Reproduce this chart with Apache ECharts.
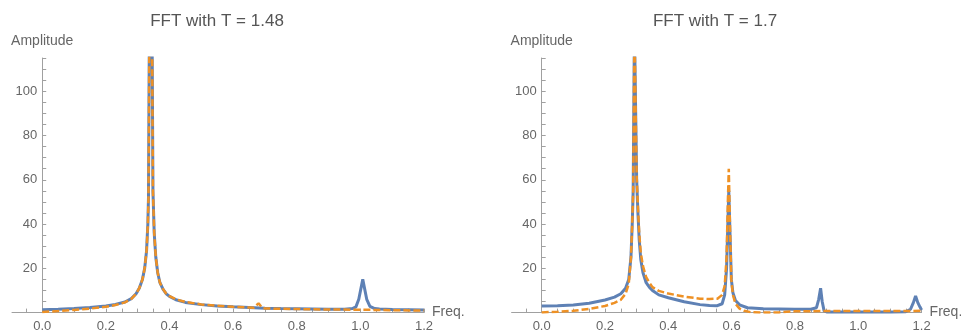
<!DOCTYPE html>
<html>
<head>
<meta charset="utf-8">
<script src="https://cdn.jsdelivr.net/npm/echarts@6/dist/echarts.min.js"></script>
<style>
  html, body { margin: 0; padding: 0; background: #fff; }
  #chart { width: 961px; height: 334px; }
</style>
</head>
<body>
<div id="chart"></div>
<script>
// T = 1.48, [freq, amplitude]
const leftBlue = [[0,1.3],[0.05,1.5],[0.1,1.8],[0.15,2.3],[0.2,3.0],[0.23,3.7],[0.26,4.8],[0.28,6.3],[0.295,8.5],[0.305,11],[0.315,15],[0.322,20],[0.328,28],[0.332,40],[0.334,52],[0.341,240],[0.348,55],[0.352,36],[0.357,25],[0.363,18],[0.37,13.5],[0.38,10.5],[0.39,8.5],[0.4,7.3],[0.42,5.8],[0.45,4.6],[0.5,3.6],[0.55,3.0],[0.6,2.6],[0.65,2.3],[0.7,2.0],[0.75,1.8],[0.8,1.7],[0.85,1.6],[0.9,1.5],[0.95,1.5],[0.975,1.8],[0.986,2.6],[0.995,6],[1.0075,15],[1.02,6],[1.03,2.8],[1.045,1.8],[1.06,1.6],[1.1,1.4],[1.15,1.3],[1.2,1.2]];
const leftOrange = [[0,0.3],[0.05,0.7],[0.1,1.2],[0.15,1.8],[0.2,2.6],[0.23,3.4],[0.26,4.6],[0.28,6.2],[0.295,8.5],[0.305,11],[0.315,15],[0.322,20],[0.328,28],[0.332,40],[0.334,52],[0.341,240],[0.348,55],[0.352,36],[0.357,25],[0.363,18],[0.37,13.5],[0.38,10.5],[0.39,8.5],[0.4,7.4],[0.42,6.0],[0.45,4.8],[0.5,3.7],[0.55,3.1],[0.6,2.6],[0.65,2.3],[0.665,2.2],[0.68,4.2],[0.692,2.1],[0.7,1.9],[0.75,1.7],[0.8,1.6],[0.9,1.4],[1.0,1.3],[1.1,1.1],[1.2,0.9]];

// T = 1.7
const rightBlue = [[0,3.0],[0.05,3.1],[0.1,3.4],[0.15,4.2],[0.2,5.7],[0.23,7.0],[0.25,8.5],[0.265,11],[0.275,15],[0.282,25],[0.286,40],[0.289,55],[0.293,128],[0.3,60],[0.304,45],[0.308,33],[0.313,24],[0.32,18],[0.33,13.5],[0.34,11.5],[0.35,10],[0.37,8],[0.4,6.7],[0.45,4.9],[0.5,3.6],[0.53,3.2],[0.555,3.1],[0.57,4.0],[0.578,8],[0.584,20],[0.588,40],[0.591,55],[0.595,35],[0.599,15],[0.604,9],[0.612,5.5],[0.625,3.5],[0.65,2.2],[0.7,1.7],[0.75,1.6],[0.8,1.5],[0.85,1.5],[0.868,2.2],[0.875,6],[0.881,11],[0.886,5],[0.892,0.8],[0.9,0.3],[0.95,0.3],[1.0,0.3],[1.1,0.3],[1.15,0.4],[1.165,1.5],[1.174,4.5],[1.181,7.5],[1.188,4.5],[1.195,2.5],[1.2,1.2]];
const rightOrange = [[0,0.1],[0.05,0.4],[0.1,0.8],[0.15,1.7],[0.2,3.0],[0.23,4.4],[0.25,5.8],[0.265,8.5],[0.275,13],[0.282,25],[0.286,40],[0.289,55],[0.293,128],[0.3,62],[0.304,48],[0.308,36],[0.313,27],[0.32,21],[0.33,16],[0.34,13.5],[0.35,11.5],[0.37,9.8],[0.4,8.6],[0.45,7.2],[0.5,6.3],[0.53,6.1],[0.555,6.3],[0.57,8],[0.578,12],[0.584,25],[0.588,50],[0.591,65],[0.595,38],[0.599,15],[0.604,8],[0.612,4],[0.625,1.8],[0.64,0.8],[0.66,0.2],[0.7,0],[0.75,0.1],[0.8,0.6],[0.9,0.7],[1.0,0.7],[1.1,0.7],[1.2,0.8]];

const titles = ["FFT with T = 1.48", "FFT with T = 1.7"];
const xLabels = [0, 0.2, 0.4, 0.6, 0.8, 1.0, 1.2];
const xTicks = [-0.05,0,0.05,0.1,0.15,0.2,0.25,0.3,0.35,0.4,0.45,0.5,0.55,0.6,0.65,0.7,0.75,0.8,0.85,0.9,0.95,1.0,1.05,1.1,1.15,1.2];
const yLabels = [20, 40, 60, 80, 100];
const yTicks = [0,5,10,15,20,25,30,35,40,45,50,55,60,65,70,75,80,85,90,95,100,105,110,115];

const xMin = -0.095, xMax = 1.2;
const font = "'Liberation Sans', Arial, sans-serif";
const axisColor = "#a0a0a0";
const textColor = "#666666";

var chart = echarts.init(document.getElementById("chart"));

// fixed plot boxes, no auto-shrinking for labels
const grids = [
  { left: 12, top: 58, width: 412, height: 254.6, outerBoundsMode: "none" },
  { left: 511.6, top: 58, width: 410, height: 254.6, outerBoundsMode: "none" }
];

function makeX(i) {
  return {
    type: "value",
    gridIndex: i,
    min: xMin,
    max: xMax,
    name: "Freq.",
    nameLocation: "end",
    nameGap: 8,
    nameTextStyle: { color: textColor, fontSize: 14, fontFamily: font },
    axisLine: { show: true, onZero: false, lineStyle: { color: axisColor, width: 1 } },
    axisTick: { show: true, inside: true, length: 4, customValues: xTicks, lineStyle: { color: axisColor } },
    axisLabel: {
      customValues: xLabels,
      color: textColor,
      fontSize: 13,
      fontFamily: font,
      margin: 7,
      formatter: v => v.toFixed(1)
    },
    splitLine: { show: false }
  };
}

function makeY(i) {
  // shift the y axis right so it sits at freq = 0
  const shift = grids[i].width * (0 - xMin) / (xMax - xMin);
  return {
    type: "value",
    gridIndex: i,
    min: 0,
    max: 115,
    offset: -shift,
    name: "Amplitude",
    nameLocation: "end",
    nameGap: 10,
    nameTextStyle: { color: textColor, fontSize: 14, fontFamily: font },
    axisLine: { show: true, onZero: false, lineStyle: { color: axisColor, width: 1 } },
    axisTick: { show: true, inside: true, length: 4, customValues: yTicks, lineStyle: { color: axisColor } },
    axisLabel: {
      customValues: yLabels,
      color: textColor,
      fontSize: 13,
      fontFamily: font,
      margin: 5
    },
    splitLine: { show: false }
  };
}

function lineSeries(data, i, orange) {
  return {
    type: "line",
    xAxisIndex: i,
    yAxisIndex: i,
    data: data,
    showSymbol: false,
    clip: true,
    animation: false,
    lineStyle: orange
      ? { color: "#EE9125", width: 2.5, type: [7, 3] }
      : { color: "#5E81B5", width: 3 },
    z: orange ? 3 : 2
  };
}

chart.setOption({
  animation: false,
  title: [
    { text: titles[0], left: 212, top: 8, textAlign: "center",
      textStyle: { color: "#555555", fontSize: 17, fontWeight: "normal", fontFamily: font } },
    { text: titles[1], left: 710, top: 8, textAlign: "center",
      textStyle: { color: "#555555", fontSize: 17, fontWeight: "normal", fontFamily: font } }
  ],
  grid: grids,
  xAxis: [makeX(0), makeX(1)],
  yAxis: [makeY(0), makeY(1)],
  series: [
    lineSeries(leftBlue, 0, false),
    lineSeries(leftOrange, 0, true),
    lineSeries(rightBlue, 1, false),
    lineSeries(rightOrange, 1, true)
  ]
});
</script>
</body>
</html>
